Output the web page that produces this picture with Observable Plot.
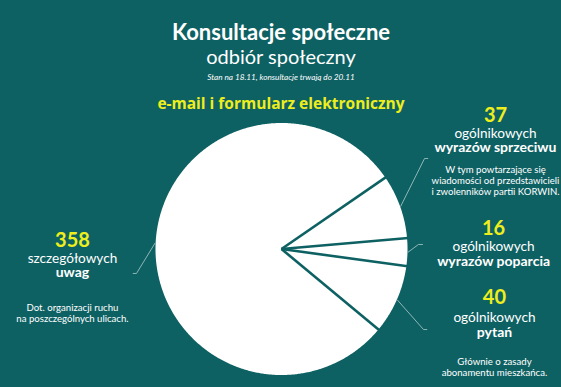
<!DOCTYPE html>
<html><head><meta charset="utf-8">
<script src="https://cdn.jsdelivr.net/npm/d3@7"></script>
<script src="https://cdn.jsdelivr.net/npm/@observablehq/plot@0.6"></script>
<style>
html,body{margin:0;padding:0;background:#0e6163;}
#chart{width:561px;height:387px;}
</style></head><body><div id="chart"></div>
<script>
// ---- data ----
const categories = ["ogólnikowych wyrazów sprzeciwu", "ogólnikowych wyrazów poparcia", "ogólnikowych pytań", "szczegółowych uwag"];
const values = [37, 16, 40, 358];
const countLabels = ["37", "16", "40", "358"];
const kindLines = ["ogólnikowych", "ogólnikowych", "ogólnikowych", "szczegółowych"];
const boldLines = ["wyrazów sprzeciwu", "wyrazów poparcia", "pytań", "uwag"];
const noteLines = [
  ["W tym powtarzające się", "wiadomości od przedstawicieli", "i zwolenników partii KORWIN."],
  [],
  ["Głównie o zasady", "abonamentu mieszkańca."],
  ["Dot. organizacji ruchu", "na poszczególnych ulicach."]
];
const titleText = "Konsultacje społeczne";
const subtitleText = "odbiór społeczny";
const dateText = "Stan na 18.11, konsultacje trwają do 20.11";
const channelText = "e-mail i formularz elektroniczny";

// ---- layout (annotation placement, in pie-radius units) ----
const BG = "#0e6163", YELLOW = "#eeee1c", LEADER = "#9dbfbe";
const startDeg = 55.5;
const labelX = [1.698, 1.683, 1.690, -1.659];
const numY = [1.004, 0.115, -0.440, 0.012];
const kindY = [0.877, -0.012, -0.583, -0.115];
const boldY = [0.766, -0.131, -0.702, -0.226];
const noteY = [0.607, null, -0.917, -0.488];
const noteStep = 0.088;
const elbow = [[1.135, 0.718], [1.087, 0.036], [1.127, -0.639], [-1.151, -0.194]];
const tickLen = [0.026, 0.032, 0.026, -0.026];

// ---- geometry from data ----
const arcs = d3.pie().sort(null).value(d => d)
  .startAngle(startDeg * Math.PI / 180)
  .endAngle(startDeg * Math.PI / 180 + 2 * Math.PI)(values);

const slicePts = [];
arcs.forEach((a, i) => {
  slicePts.push({slice: categories[i], x: 0, y: 0});
  const n = Math.max(2, Math.ceil((a.endAngle - a.startAngle) / (Math.PI / 360)));
  for (let k = 0; k <= n; k++) {
    const t = a.startAngle + (a.endAngle - a.startAngle) * k / n;
    slicePts.push({slice: categories[i], x: Math.sin(t), y: Math.cos(t)});
  }
  slicePts.push({slice: categories[i], x: 0, y: 0});
});
const radials = arcs.map(a => ({x2: Math.sin(a.startAngle) * 1.01, y2: Math.cos(a.startAngle) * 1.01}));

const leaders = [];
arcs.forEach((a, i) => {
  const m = (a.startAngle + a.endAngle) / 2;
  const pts = [[Math.sin(m) * 1.005, Math.cos(m) * 1.005], elbow[i], [elbow[i][0] + tickLen[i], elbow[i][1]]];
  pts.forEach(p => leaders.push({slice: categories[i], x: p[0], y: p[1]}));
});

const idx = values.map((_, i) => i);
const notes = [];
noteLines.forEach((lines, i) => lines.forEach((t, j) => notes.push({i, j, t})));

const F = "Lato, 'Open Sans', sans-serif";
const chart = Plot.plot({
  width: 561, height: 387, margin: 0,
  x: {domain: [-2.230, 2.222], axis: null},
  y: {domain: [-1.099, 1.972], axis: null},
  style: {background: BG, fontFamily: F, overflow: "visible"},
  marks: [
    Plot.line(slicePts, {x: "x", y: "y", z: "slice", fill: "white", stroke: "none", curve: "linear"}),
    Plot.link(radials, {x1: 0, y1: 0, x2: "x2", y2: "y2", stroke: BG, strokeWidth: 2.6, strokeLinecap: "butt"}),
    Plot.line(leaders, {x: "x", y: "y", z: "slice", stroke: LEADER, strokeWidth: 0.9}),
    // titles
    Plot.text([titleText], {text: d => d, frameAnchor: "top", dy: 39, lineAnchor: "bottom", fontSize: 22, fontWeight: "bold", fill: "white", fontFamily: F}),
    Plot.text([subtitleText], {text: d => d, frameAnchor: "top", dy: 63, lineAnchor: "bottom", fontSize: 20, fill: "white", fontFamily: F}),
    Plot.text([dateText], {text: d => d, frameAnchor: "top", dy: 79, lineAnchor: "bottom", fontSize: 8.2, fontStyle: "italic", fill: "white", fontFamily: F}),
    Plot.text([channelText], {text: d => d, frameAnchor: "top", dy: 108, lineAnchor: "bottom", fontSize: 15.5, fontWeight: "bold", fill: YELLOW, fontFamily: "'Open Sans', sans-serif"}),
    // slice labels
    Plot.text(idx, {x: i => labelX[i], y: i => numY[i], text: i => countLabels[i], lineAnchor: "bottom", fontSize: 20, fontWeight: "bold", fill: YELLOW, fontFamily: F}),
    Plot.text(idx, {x: i => labelX[i], y: i => kindY[i], text: i => kindLines[i], lineAnchor: "bottom", fontSize: 13.6, fill: "white", fontFamily: F}),
    Plot.text(idx, {x: i => labelX[i], y: i => boldY[i], text: i => boldLines[i], lineAnchor: "bottom", fontSize: 14, fontWeight: "bold", fill: "white", fontFamily: F}),
    Plot.text(notes, {x: d => labelX[d.i], y: d => noteY[d.i] - d.j * noteStep, text: "t", lineAnchor: "bottom", fontSize: 9.6, fill: "white", fontFamily: F})
  ]
});
document.getElementById("chart").appendChild(chart);
</script></body></html>
